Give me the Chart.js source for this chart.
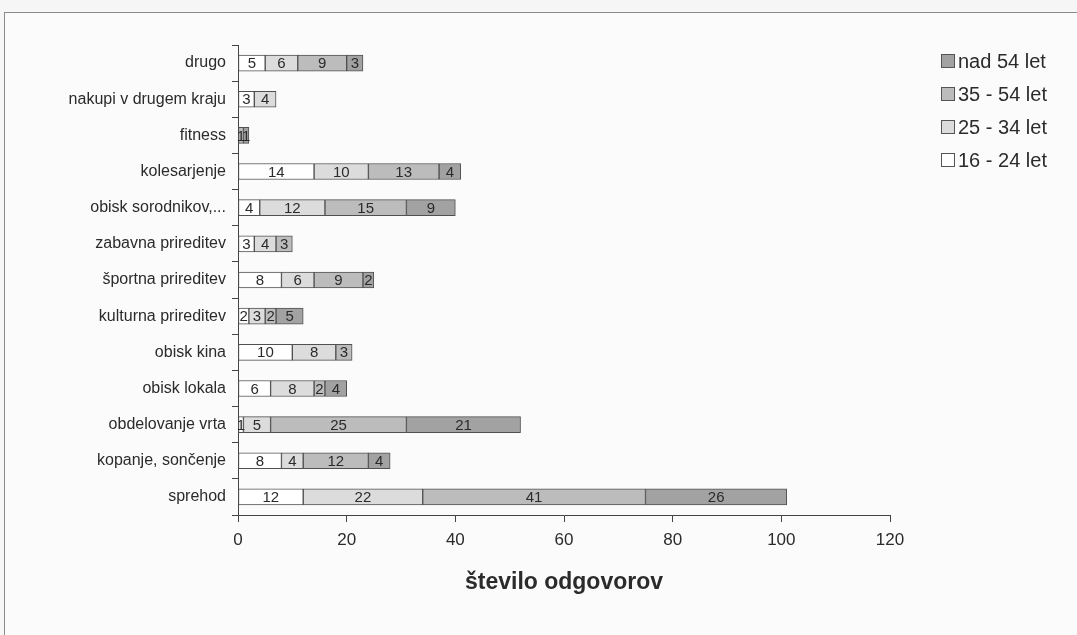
<!DOCTYPE html>
<html>
<head>
<meta charset="utf-8">
<script src="https://cdn.jsdelivr.net/npm/chart.js@4"></script>
<style>
  html, body { margin: 0; padding: 0; background: #f6f6f6; overflow: hidden; }
  #frame {
    position: absolute; left: 4px; top: 12px;
    width: 1100px; height: 660px;
    border: 1px solid #8a8a8a; background: #fbfbfb;
  }
  #chartBox { position: absolute; left: 0; top: 0; width: 1072px; height: 622px; }
</style>
</head>
<body>
<div id="frame">
  <div id="chartBox"><canvas id="activityChart"></canvas></div>
</div>
<script>
const categories = [
  "drugo", "nakupi v drugem kraju", "fitness", "kolesarjenje",
  "obisk sorodnikov,...", "zabavna prireditev", "športna prireditev",
  "kulturna prireditev", "obisk kina", "obisk lokala", "obdelovanje vrta",
  "kopanje, sončenje", "sprehod"
];
const seriesNames = ["16 - 24 let", "25 - 34 let", "35 - 54 let", "nad 54 let"];
const age16to24 = [5, 3, 0, 14, 4, 3, 8, 2, 10, 6, 1, 8, 12];
const age25to34 = [6, 4, 0, 10, 12, 4, 6, 3, 8, 8, 5, 4, 22];
const age35to54 = [9, 0, 1, 13, 15, 3, 9, 2, 3, 2, 25, 12, 41];
const ageOver54 = [3, 0, 1, 4, 9, 0, 2, 5, 0, 4, 21, 4, 26];
const xTicks = [0, 20, 40, 60, 80, 100, 120];

const fills = ["#ffffff", "#dcdcdc", "#bcbcbc", "#a2a2a2"];
const textColor = "#2b2b2b";
const fontFamily = "'Liberation Sans', Arial, sans-serif";

// numbers inside each segment
const segmentLabels = {
  id: "segmentLabels",
  afterDatasetsDraw(chart) {
    const ctx = chart.ctx;
    ctx.save();
    ctx.font = "15px " + fontFamily;
    ctx.fillStyle = textColor;
    ctx.textAlign = "center";
    ctx.textBaseline = "middle";
    chart.data.datasets.forEach((ds, i) => {
      chart.getDatasetMeta(i).data.forEach((bar, j) => {
        const v = ds.data[j];
        if (!v) return;
        const { x, y, base } = bar.getProps(["x", "y", "base"], true);
        ctx.fillText(String(v), (x + base) / 2, y + 1);
      });
    });
    ctx.restore();
  },
};

// legend on the right, oldest group on top
const sideLegend = {
  id: "sideLegend",
  afterDraw(chart) {
    const ctx = chart.ctx;
    const left = 936;
    const top = 48;
    const rowGap = 33;
    ctx.save();
    ctx.font = "20px " + fontFamily;
    ctx.textBaseline = "middle";
    const items = chart.data.datasets.slice().reverse();
    items.forEach((ds, k) => {
      const y = top + k * rowGap;
      ctx.fillStyle = ds.backgroundColor;
      ctx.strokeStyle = "#555";
      ctx.lineWidth = 1;
      ctx.fillRect(left + 0.5, y - 6.5, 13, 13);
      ctx.strokeRect(left + 0.5, y - 6.5, 13, 13);
      ctx.fillStyle = textColor;
      ctx.fillText(ds.label, left + 17, y + 1);
    });
    ctx.restore();
  },
};

const seriesData = [age16to24, age25to34, age35to54, ageOver54];

new Chart(document.getElementById("activityChart"), {
  type: "bar",
  data: {
    labels: categories,
    datasets: seriesData.map((data, i) => ({
      label: seriesNames[i],
      data,
      backgroundColor: fills[i],
      borderColor: "#505050",
      borderWidth: 1,
      borderSkipped: false,
      barThickness: 16,
    })),
  },
  options: {
    indexAxis: "y",
    responsive: true,
    maintainAspectRatio: false,
    animation: false,
    layout: { padding: { top: 32, right: 187, bottom: 0, left: 0 } },
    scales: {
      x: {
        stacked: true,
        min: 0,
        max: 120,
        afterFit: (scale) => { scale.height = 120; },
        afterBuildTicks: (scale) => { scale.ticks = xTicks.map((v) => ({ value: v })); },
        border: { display: true, color: "#444", width: 1 },
        grid: { drawOnChartArea: false, drawTicks: true, tickLength: 7, color: "#444" },
        ticks: { padding: 8, color: textColor, font: { size: 17, family: fontFamily } },
        title: {
          display: true,
          text: "število odgovorov",
          color: textColor,
          font: { size: 23, weight: "bold", family: fontFamily },
          padding: { top: 0, bottom: 39 },
        },
      },
      y: {
        stacked: true,
        afterFit: (scale) => { scale.width = 233; },
        border: { display: true, color: "#444", width: 1 },
        grid: { drawOnChartArea: false, drawTicks: true, tickLength: 6, color: "#444", offset: true },
        ticks: { padding: 6, color: textColor, font: { size: 16, family: fontFamily } },
      },
    },
    plugins: {
      legend: { display: false },
      tooltip: { enabled: false },
    },
  },
  plugins: [segmentLabels, sideLegend],
});
</script>
</body>
</html>
